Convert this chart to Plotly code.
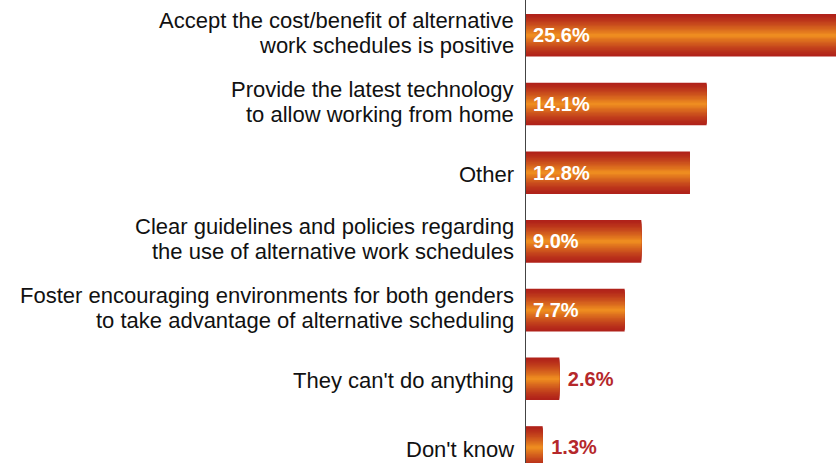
import plotly.graph_objects as go

categories = [
    "Accept the cost/benefit of alternative<br>work schedules is positive",
    "Provide the latest technology<br>to allow working from home",
    "Other",
    "Clear guidelines and policies regarding<br>the use of alternative work schedules",
    "Foster encouraging environments for both genders<br>to take advantage of alternative scheduling",
    "They can't do anything",
    "Don't know",
]
values = [25.6, 14.1, 12.8, 9.0, 7.7, 2.6, 1.3]
value_labels = ["25.6%", "14.1%", "12.8%", "9.0%", "7.7%", "2.6%", "1.3%"]

X_MAX = 24.2
BAR_W = 0.62
EDGE = (176, 34, 26)
CENTER = (238, 140, 32)
N = 16
FONT = "Liberation Sans, Arial, sans-serif"

fig = go.Figure()
for k in range(N):
    t = (k / (N - 1)) ** 1.3
    c = tuple(int(round(EDGE[i] + (CENTER[i] - EDGE[i]) * t)) for i in range(3))
    w = BAR_W * (1 - k / N)
    fig.add_trace(go.Bar(
        x=values, y=categories, orientation="h", width=w,
        marker=dict(color="rgb(%d,%d,%d)" % c, line=dict(width=0)),
        hoverinfo="skip", showlegend=False,
    ))

positions = ["inside" if v > 5 else "outside" for v in values]
texts = [("\u2009" + l) if p == "inside" else (" " + l) for l, p in zip(value_labels, positions)]
fig.add_trace(go.Bar(
    x=[min(v, X_MAX) for v in values], y=categories, orientation="h", width=BAR_W,
    marker=dict(color="rgba(0,0,0,0)", line=dict(width=0)),
    text=texts, textposition=positions,
    insidetextanchor="start", constraintext="none",
    insidetextfont=dict(color="white", size=20, family=FONT, weight="bold"),
    outsidetextfont=dict(color="#B5282B", size=20, family=FONT, weight="bold"),
    cliponaxis=False, showlegend=False, hoverinfo="skip",
))

# category labels as annotations (tighter line spacing than tick labels)
for cat in categories:
    lines = cat.split("<br>")
    n = len(lines)
    for i, line in enumerate(lines):
        ys = -2 if n == 1 else 15 - i * 25
        fig.add_annotation(
            xref="paper", x=0, xshift=-10, xanchor="right",
            yref="y", y=cat, yshift=ys, yanchor="middle",
            text=line, showarrow=False,
            font=dict(family=FONT, size=22, color="#111111"),
        )

fig.update_layout(
    width=836, height=463,
    margin=dict(l=526, r=0, t=0, b=0),
    barmode="overlay",
    plot_bgcolor="white", paper_bgcolor="white",
    font=dict(family=FONT, size=22, color="#111111"),
)
fig.update_xaxes(range=[0, X_MAX], showgrid=False, zeroline=False, showticklabels=False, showline=False)
fig.update_yaxes(
    range=[6.226, -0.514], showgrid=False, zeroline=False,
    showline=True, linecolor="#444444", linewidth=1,
    ticks="", showticklabels=False, automargin=False,
)

fig.write_html("out.html", config={"displayModeBar": False},
               post_script="document.body.style.margin='0';")
